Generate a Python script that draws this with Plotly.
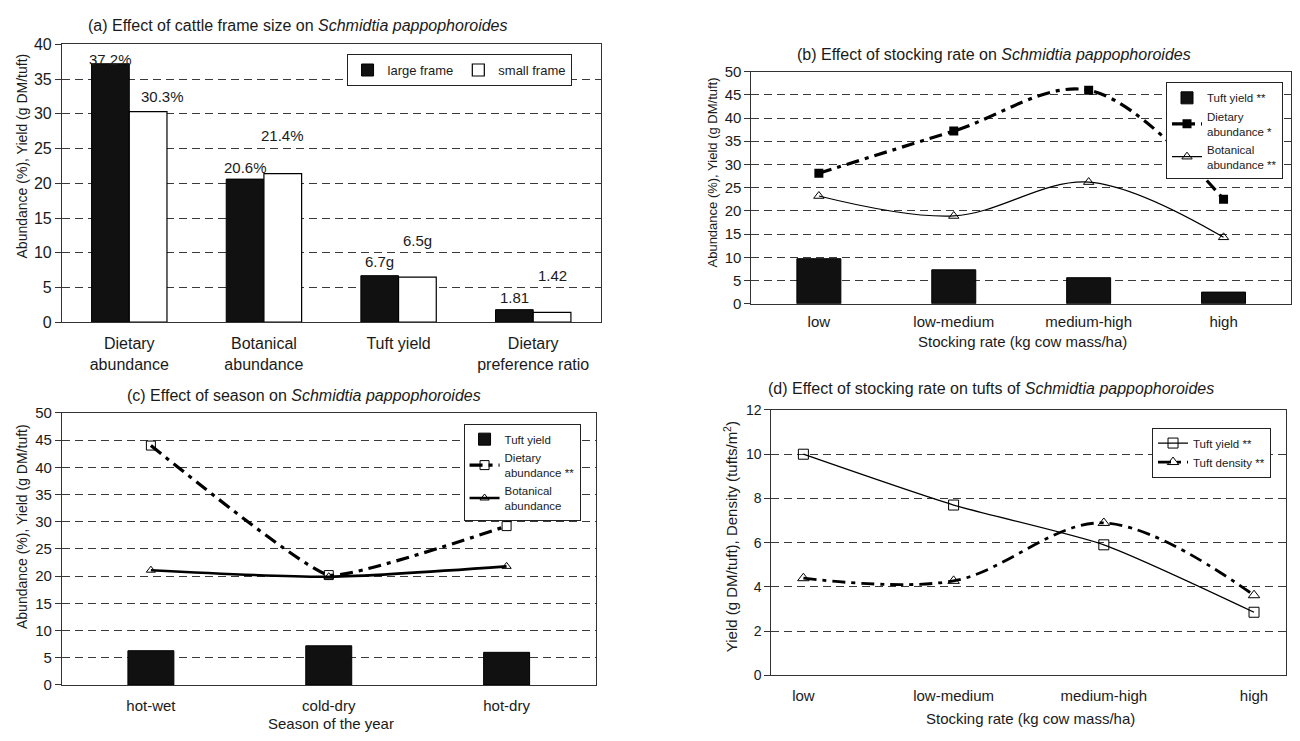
import plotly.graph_objects as go

# The page keeps its default 8px body margin, so the figure is sized to fit the
# 1300x741 window exactly and all target pixel positions are offset by 8px.
PAGE_W, PAGE_H, OFF = 1300, 741, 8
W, H = PAGE_W - 2 * OFF, PAGE_H - 2 * OFF
FONT = "Liberation Sans, Arial, sans-serif"
INK = "#1a1a1a"

# ---------------- data ----------------
# Panel (a)
a_categories = ["Dietary<br>abundance", "Botanical<br>abundance", "Tuft yield", "Dietary<br>preference ratio"]
a_large = [37.2, 20.6, 6.7, 1.81]
a_small = [30.3, 21.4, 6.5, 1.42]
a_large_labels = ["37.2%", "20.6%", "6.7g", "1.81"]
a_small_labels = ["30.3%", "21.4%", "6.5g", "1.42"]

# Panel (b)
b_categories = ["low", "low-medium", "medium-high", "high"]
b_tuft_yield = [9.7, 7.3, 5.6, 2.5]
b_dietary = [28.1, 37.2, 46.0, 22.5]
b_botanical = [23.2, 18.9, 26.2, 14.3]

# Panel (c)
c_categories = ["hot-wet", "cold-dry", "hot-dry"]
c_tuft_yield = [6.3, 7.2, 6.0]
c_dietary = [44.0, 20.2, 29.2]
c_botanical = [21.1, 19.9, 21.8]

# Panel (d)
d_categories = ["low", "low-medium", "medium-high", "high"]
d_tuft_yield = [10.0, 7.7, 5.9, 2.85]
d_density = [4.39, 4.27, 6.89, 3.62]


def fx(px):
    return min(1.0, max(0.0, (px - OFF) / W))


def fy(py):
    return min(1.0, max(0.0, 1 - (py - OFF) / H))


DASHDOT = "13px,6px,4px,6px"

fig = go.Figure()

# ---------------- panel (a) ----------------
fig.add_trace(go.Bar(x=a_categories, y=a_large, name="large frame",
                     marker=dict(color="#111111", line=dict(color="#000", width=1)),
                     xaxis="x", yaxis="y", legend="legend"))
fig.add_trace(go.Bar(x=a_categories, y=a_small, name="small frame",
                     marker=dict(color="#ffffff", line=dict(color="#000", width=1.2)),
                     xaxis="x", yaxis="y", legend="legend"))

# ---------------- panel (b) ----------------
fig.add_trace(go.Bar(x=b_categories, y=b_tuft_yield, name="Tuft yield **",
                     marker=dict(color="#111111", line=dict(color="#000", width=1)),
                     xaxis="x2", yaxis="y2", legend="legend2"))
fig.add_trace(go.Scatter(x=b_categories, y=b_dietary, name="Dietary<br>abundance *",
                         mode="lines+markers",
                         line=dict(color="#000", width=3.2, dash=DASHDOT, shape="spline", smoothing=1),
                         marker=dict(symbol="square", size=9, color="#000"),
                         xaxis="x2", yaxis="y2", legend="legend2"))
fig.add_trace(go.Scatter(x=b_categories, y=b_botanical, name="Botanical<br>abundance **",
                         mode="lines+markers", line=dict(color="#000", width=1.2, shape="spline", smoothing=1),
                         marker=dict(symbol="triangle-up-open", size=9, color="#000", line=dict(width=1)),
                         xaxis="x2", yaxis="y2", legend="legend2"))

# ---------------- panel (c) ----------------
fig.add_trace(go.Bar(x=c_categories, y=c_tuft_yield, name="Tuft yield",
                     marker=dict(color="#111111", line=dict(color="#000", width=1)),
                     xaxis="x3", yaxis="y3", legend="legend3"))
fig.add_trace(go.Scatter(x=c_categories, y=c_dietary, name="Dietary<br>abundance **",
                         mode="lines+markers",
                         line=dict(color="#000", width=3.2, dash=DASHDOT, shape="spline", smoothing=0.35),
                         marker=dict(symbol="square-open", size=9, color="#000", line=dict(width=1)),
                         xaxis="x3", yaxis="y3", legend="legend3"))
fig.add_trace(go.Scatter(x=c_categories, y=c_botanical, name="Botanical<br>abundance",
                         mode="lines+markers",
                         line=dict(color="#000", width=2.6, shape="spline", smoothing=0.7),
                         marker=dict(symbol="triangle-up-open", size=8, color="#000", line=dict(width=1)),
                         xaxis="x3", yaxis="y3", legend="legend3"))

# ---------------- panel (d) ----------------
fig.add_trace(go.Scatter(x=d_categories, y=d_tuft_yield, name="Tuft yield **",
                         mode="lines+markers",
                         line=dict(color="#000", width=1.3, shape="spline", smoothing=0.6),
                         marker=dict(symbol="square-open", size=10, color="#000", line=dict(width=1)),
                         xaxis="x4", yaxis="y4", legend="legend4"))
fig.add_trace(go.Scatter(x=d_categories, y=d_density, name="Tuft density **",
                         mode="lines+markers",
                         line=dict(color="#000", width=2.8, dash=DASHDOT, shape="spline", smoothing=1),
                         marker=dict(symbol="triangle-up-open", size=10, color="#000", line=dict(width=1)),
                         xaxis="x4", yaxis="y4", legend="legend4"))


def xax(domain, font_size, standoff):
    return dict(domain=domain, type="category", showline=True, mirror=True, linecolor="#333",
                linewidth=1, ticks="", showgrid=False, tickfont=dict(size=font_size, color=INK),
                ticklabelstandoff=standoff, fixedrange=True)


def yax(domain, anchor, rng, dtick, font_size):
    return dict(domain=domain, anchor=anchor, range=rng, dtick=dtick, showline=True, mirror=True,
                linecolor="#333", linewidth=1, ticks="outside", ticklen=6, tickcolor="#333",
                showgrid=True, gridcolor="#3a3a3a", gridwidth=1, griddash="8px,5px",
                zeroline=False, tickfont=dict(size=font_size, color=INK), fixedrange=True)


leg_common = dict(bgcolor="#ffffff", bordercolor="#222", borderwidth=1,
                  font=dict(family=FONT, size=11.5, color=INK), xanchor="right", yanchor="top",
                  tracegroupgap=0)

cat_w_a = (601 - 62) / 4
cat_w_b = (1292 - 752) / 4
cat_w_c = (596 - 62) / 3

fig.update_layout(
    width=W, height=H,
    margin=dict(l=0, r=0, t=0, b=0),
    paper_bgcolor="#ffffff", plot_bgcolor="#ffffff",
    font=dict(family=FONT, color=INK),
    barmode="group",
    bargap=0.44,
    bargroupgap=0,
    xaxis=xax([fx(62), fx(601)], 16, 7) | dict(anchor="y"),
    yaxis=yax([fy(321), fy(36)], "x", [0, 40], 5, 16),
    xaxis2=xax([fx(752), fx(1292)], 15, 4) | dict(anchor="y2"),
    yaxis2=yax([fy(302), fy(64)], "x2", [0, 50], 5, 15),
    xaxis3=xax([fx(62), fx(596)], 15, 7) | dict(anchor="y3"),
    yaxis3=yax([fy(693), fy(414)], "x3", [0, 50], 5, 15),
    xaxis4=xax([fx(772), fx(1287)], 15, 7) | dict(anchor="y4"),
    yaxis4=yax([fy(683), fy(411)], "x4", [0, 12], 2, 14),
    legend=leg_common | dict(x=fx(572), y=fy(46), orientation="h", itemwidth=30,
                             font=dict(family=FONT, size=13, color=INK)),
    legend2=leg_common | dict(x=fx(1284), y=fy(75)),
    legend3=leg_common | dict(x=fx(581), y=fy(425)),
    legend4=leg_common | dict(x=fx(1272), y=fy(429)),
    showlegend=True,
)

# explicit bar widths (category units) for panels b and c
fig.data[2].update(width=44 / cat_w_b)
fig.data[5].update(width=46 / cat_w_c)

# ---------------- annotations ----------------
ann = []


def txt(x, y, text, size=15, angle=0, **kw):
    d = dict(x=fx(x), y=fy(y), xref="paper", yref="paper", text=text, showarrow=False,
             font=dict(family=FONT, size=size, color=INK), textangle=angle,
             xanchor="center", yanchor="middle")
    d.update(kw)
    return d


# titles
ann.append(txt(298, 17, "(a) Effect of cattle frame size on <i>Schmidtia pappophoroides</i>", 16))
ann.append(txt(995, 46, "(b) Effect of stocking rate on <i>Schmidtia pappophoroides</i>", 16))
ann.append(txt(304, 396, "(c) Effect of season on <i>Schmidtia pappophoroides</i>", 16))
ann.append(txt(992, 389, "(d) Effect of stocking rate on tufts of <i>Schmidtia pappophoroides</i>", 16))

# y-axis titles
ann.append(txt(22, 150, "Abundance (%), Yield (g DM/tuft)", 14, -90))
ann.append(txt(713, 167, "Abundance (%), Yield (g DM/tuft)", 13, -90))
ann.append(txt(22, 530, "Abundance (%), Yield (g DM/tuft)", 14, -90))
ann.append(txt(731, 541, "Yield (g DM/tuft), Density (tufts/m<sup>2</sup>)", 15, -90))

# x-axis titles
ann.append(txt(1023, 341, "Stocking rate (kg cow mass/ha)", 15))
ann.append(txt(331, 732, "Season of the year", 15))
ann.append(txt(1031, 727, "Stocking rate (kg cow mass/ha)", 15))

# value labels for panel (a)
bar_px = (1 - 0.44) * cat_w_a / 2
large_shift_y = [4, 12, 14, 12]
small_shift_y = [15, 38, 37, 37]
small_extra_x = [14, 0, 0, 0]
for i, cat in enumerate(a_categories):
    ann.append(dict(x=cat, y=a_large[i], xref="x", yref="y", text=a_large_labels[i], showarrow=False,
                    xshift=-bar_px / 2, yshift=large_shift_y[i], yanchor="middle",
                    font=dict(family=FONT, size=15, color=INK)))
    ann.append(dict(x=cat, y=a_small[i], xref="x", yref="y", text=a_small_labels[i], showarrow=False,
                    xshift=bar_px / 2 + small_extra_x[i], yshift=small_shift_y[i], yanchor="middle",
                    font=dict(family=FONT, size=15, color=INK)))

fig.update_layout(annotations=ann)

fig.write_html("out.html", config={"displayModeBar": False})
